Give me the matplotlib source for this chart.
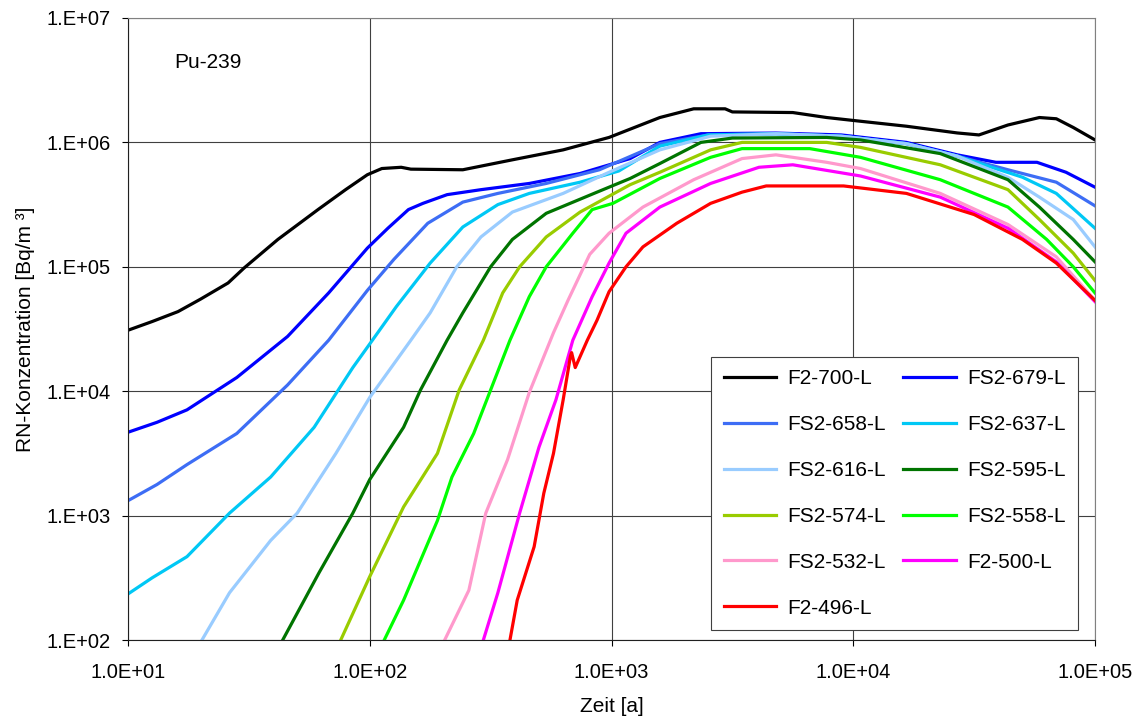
import matplotlib.pyplot as plt
import numpy as np
from matplotlib.ticker import FixedLocator, NullLocator

plt.rcParams['font.family'] = ['Liberation Sans', 'DejaVu Sans']

# curve points as (log10 time, log10 concentration)
labels = ['F2-700-L', 'FS2-679-L', 'FS2-658-L', 'FS2-637-L', 'FS2-616-L', 'FS2-595-L',
          'FS2-574-L', 'FS2-558-L', 'FS2-532-L', 'F2-500-L', 'F2-496-L']
colors = ['#000000', '#0000FF', '#3D6DF5', '#00C8F5', '#99CCFF', '#007400',
          '#99CC00', '#00FF00', '#FF99CC', '#FF00FF', '#FF0000']

f2_700_x = [1.0, 1.10, 1.207, 1.30, 1.414, 1.48, 1.62, 1.786, 1.90, 1.99, 2.05, 2.13, 2.17,
            2.385, 2.59, 2.80, 2.99, 3.20, 3.34, 3.47, 3.50, 3.75, 3.89, 4.03, 4.22, 4.43,
            4.52, 4.64, 4.77, 4.84, 4.91, 5.0]
f2_700_y = [4.49, 4.56, 4.64, 4.74, 4.87, 4.99, 5.22, 5.46, 5.62, 5.74, 5.79, 5.80, 5.785,
            5.78, 5.86, 5.94, 6.04, 6.20, 6.27, 6.27, 6.245, 6.24, 6.20, 6.17, 6.13, 6.076,
            6.06, 6.14, 6.20, 6.19, 6.12, 6.02]

fs2_679_x = [1.0, 1.12, 1.244, 1.45, 1.66, 1.83, 1.99, 2.075, 2.16, 2.22, 2.32, 2.46, 2.66,
             2.87, 3.077, 3.20, 3.37, 3.68, 3.95, 4.22, 4.43, 4.59, 4.76, 4.88, 5.0]
fs2_679_y = [3.67, 3.75, 3.85, 4.11, 4.44, 4.79, 5.15, 5.31, 5.46, 5.51, 5.58, 5.62, 5.67,
             5.75, 5.87, 6.0, 6.07, 6.075, 6.06, 6.0, 5.90, 5.84, 5.84, 5.76, 5.64]

fs2_658_x = [1.0, 1.12, 1.244, 1.45, 1.66, 1.83, 1.99, 2.10, 2.24, 2.385, 2.53, 2.73, 2.95,
             3.20, 3.40, 3.68, 3.95, 4.22, 4.43, 4.64, 4.84, 5.0]
fs2_658_y = [3.12, 3.25, 3.41, 3.66, 4.05, 4.41, 4.81, 5.06, 5.35, 5.52, 5.59, 5.67, 5.78,
             5.99, 6.06, 6.07, 6.05, 5.99, 5.89, 5.78, 5.68, 5.49]

fs2_637_x = [1.0, 1.10, 1.244, 1.42, 1.59, 1.77, 1.93, 2.0, 2.11, 2.25, 2.385, 2.53, 2.66,
             2.87, 3.03, 3.20, 3.40, 3.68, 3.95, 4.22, 4.43, 4.70, 4.84, 5.0]
fs2_637_y = [2.37, 2.50, 2.67, 3.02, 3.31, 3.71, 4.19, 4.38, 4.68, 5.03, 5.32, 5.50, 5.59,
             5.68, 5.77, 5.97, 6.06, 6.07, 6.05, 5.99, 5.89, 5.72, 5.59, 5.31]

fs2_616_x = [1.306, 1.42, 1.59, 1.70, 1.86, 2.0, 2.17, 2.25, 2.36, 2.46, 2.59, 2.80, 2.99,
             3.20, 3.41, 3.68, 3.95, 4.22, 4.43, 4.64, 4.77, 4.91, 5.0]
fs2_616_y = [2.0, 2.38, 2.80, 3.02, 3.50, 3.95, 4.41, 4.63, 5.0, 5.24, 5.44, 5.59, 5.76,
             5.94, 6.05, 6.07, 6.05, 5.99, 5.89, 5.72, 5.56, 5.38, 5.16]

fs2_595_x = [1.64, 1.79, 1.93, 2.0, 2.14, 2.21, 2.32, 2.385, 2.50, 2.59, 2.73, 2.94, 3.077,
             3.20, 3.37, 3.50, 3.89, 4.03, 4.36, 4.64, 4.77, 4.91, 5.0]
fs2_595_y = [2.0, 2.54, 3.02, 3.29, 3.71, 4.01, 4.41, 4.63, 5.0, 5.22, 5.43, 5.60, 5.71,
             5.83, 6.0, 6.035, 6.04, 6.02, 5.91, 5.70, 5.48, 5.22, 5.04]

fs2_574_x = [1.88, 2.0, 2.14, 2.28, 2.37, 2.47, 2.55, 2.62, 2.73, 2.87, 3.077, 3.20, 3.41,
             3.54, 3.89, 4.03, 4.36, 4.64, 4.77, 4.91, 5.0]
fs2_574_y = [2.0, 2.51, 3.07, 3.50, 4.01, 4.41, 4.79, 5.0, 5.24, 5.44, 5.66, 5.76, 5.94,
             6.0, 6.0, 5.96, 5.82, 5.62, 5.38, 5.11, 4.89]

fs2_558_x = [2.06, 2.14, 2.28, 2.34, 2.43, 2.50, 2.58, 2.66, 2.73, 2.84, 2.92, 3.006, 3.20,
             3.41, 3.54, 3.82, 4.03, 4.36, 4.64, 4.80, 4.91, 5.0]
fs2_558_y = [2.0, 2.32, 2.96, 3.31, 3.66, 4.01, 4.41, 4.76, 5.0, 5.27, 5.46, 5.51, 5.71,
             5.88, 5.95, 5.95, 5.88, 5.70, 5.48, 5.22, 5.0, 4.79]

fs2_532_x = [2.31, 2.41, 2.48, 2.57, 2.66, 2.76, 2.82, 2.91, 2.99, 3.13, 3.34, 3.54, 3.68,
             3.89, 4.03, 4.36, 4.64, 4.84, 5.0]
fs2_532_y = [2.0, 2.40, 3.02, 3.45, 3.99, 4.47, 4.73, 5.10, 5.27, 5.48, 5.70, 5.87, 5.90,
             5.84, 5.79, 5.59, 5.34, 5.08, 4.73]

f2_500_x = [2.47, 2.53, 2.62, 2.70, 2.77, 2.84, 2.92, 2.99, 3.06, 3.20, 3.41, 3.61, 3.75,
            4.03, 4.36, 4.64, 4.84, 5.0]
f2_500_y = [2.0, 2.38, 3.02, 3.55, 3.93, 4.41, 4.76, 5.03, 5.27, 5.48, 5.67, 5.80, 5.82,
            5.73, 5.56, 5.31, 5.04, 4.72]

f2_496_x = [2.58, 2.61, 2.68, 2.72, 2.76, 2.80, 2.83, 2.835, 2.85, 2.90, 2.94, 2.99, 3.06,
            3.13, 3.27, 3.41, 3.54, 3.64, 3.96, 4.22, 4.50, 4.70, 4.84, 5.0]
f2_496_y = [2.0, 2.32, 2.75, 3.18, 3.50, 3.93, 4.28, 4.31, 4.19, 4.41, 4.57, 4.80, 5.0,
            5.16, 5.35, 5.51, 5.60, 5.65, 5.65, 5.59, 5.42, 5.22, 5.03, 4.73]

series_x = [f2_700_x, fs2_679_x, fs2_658_x, fs2_637_x, fs2_616_x, fs2_595_x,
            fs2_574_x, fs2_558_x, fs2_532_x, f2_500_x, f2_496_x]
series_y = [f2_700_y, fs2_679_y, fs2_658_y, fs2_637_y, fs2_616_y, fs2_595_y,
            fs2_574_y, fs2_558_y, fs2_532_y, f2_500_y, f2_496_y]

x_ticks = [1e1, 1e2, 1e3, 1e4, 1e5]
x_ticklabels = ['1.0E+01', '1.0E+02', '1.0E+03', '1.0E+04', '1.0E+05']
y_ticks = [1e2, 1e3, 1e4, 1e5, 1e6, 1e7]
y_ticklabels = ['1.E+02', '1.E+03', '1.E+04', '1.E+05', '1.E+06', '1.E+07']

fig = plt.figure(figsize=(11.41, 7.2), dpi=100)
ax = fig.add_axes([128 / 1141, 80 / 720, 967 / 1141, 622 / 720])

lines = []
for xs, ys, lab, col in zip(series_x, series_y, labels, colors):
    ln, = ax.plot(10 ** np.array(xs), 10 ** np.array(ys), color=col, lw=2.3, label=lab,
                  solid_joinstyle='round')
    lines.append(ln)

ax.set_xscale('log')
ax.set_yscale('log')
ax.set_xlim(1e1, 1e5)
ax.set_ylim(1e2, 1e7)
ax.xaxis.set_major_locator(FixedLocator(x_ticks))
ax.yaxis.set_major_locator(FixedLocator(y_ticks))
ax.xaxis.set_minor_locator(NullLocator())
ax.yaxis.set_minor_locator(NullLocator())
ax.set_xticklabels(x_ticklabels)
ax.set_yticklabels(y_ticklabels)
ax.tick_params(labelsize=14.5, length=4.5, width=0.8, direction='out')
ax.tick_params(axis='x', pad=12)
ax.tick_params(axis='y', pad=8)

ax.grid(True, color='#404040', lw=0.8)
for s in ax.spines.values():
    s.set_color('#808080')
ax.spines['left'].set_color('#202020')
ax.spines['bottom'].set_color('#202020')

ax.set_xlabel('Zeit [a]', fontsize=15, labelpad=11)
ax.set_ylabel('RN-Konzentration [Bq/m ³]', fontsize=15, labelpad=8)

ax.text(0.0476, 0.928, 'Pu-239', transform=ax.transAxes, fontsize=15, va='center')

# row-wise legend order as in the original (matplotlib fills columns first)
order = [0, 2, 4, 6, 8, 10, 1, 3, 5, 7, 9]
leg = ax.legend([lines[i] for i in order], [labels[i] for i in order], ncol=2,
                loc='lower right', bbox_to_anchor=(0.9824, 0.016), fontsize=15,
                handlelength=2.5, handletextpad=0.55, labelspacing=1.29, columnspacing=0.85,
                borderpad=0.6, borderaxespad=0, fancybox=False, framealpha=1,
                edgecolor='#404040')
leg.get_frame().set_linewidth(0.8)

fig.savefig('out.png', dpi=100)
